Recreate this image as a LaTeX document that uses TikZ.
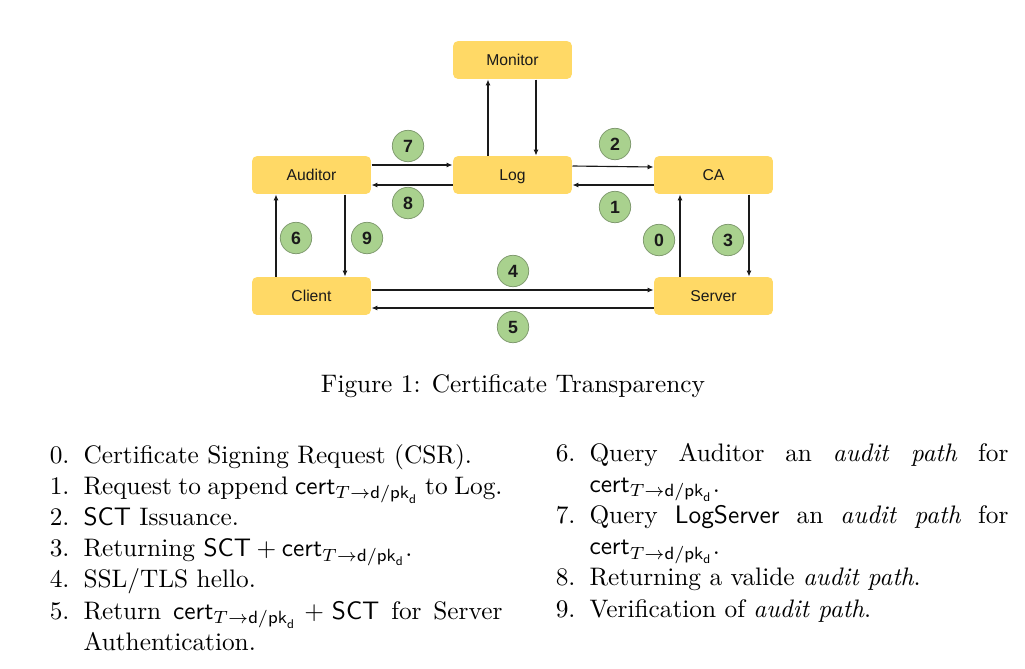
\documentclass[tikz,border=0pt]{standalone}
\usepackage{amsmath}
\usepackage{fontspec}
\usetikzlibrary{arrows.meta, calc}
\newfontfamily\boxfont{Liberation Sans}
\definecolor{boxyellow}{HTML}{FFD966}
\definecolor{stepgreen}{HTML}{A9D18E}
\definecolor{stepedge}{HTML}{7F9A6E}
\definecolor{ink}{HTML}{1A1A1A}
\newcommand{\certd}{\ensuremath{\mathsf{cert}_{T\rightarrow\mathsf{d}/\mathsf{pk}_{\mathsf{d}}}}}
\newcommand{\sct}{\textsf{SCT}}
\tikzset{
  entity/.style    = {rectangle, rounded corners=2pt, fill=boxyellow, draw=none,
                      minimum width=47pt, minimum height=15pt, inner sep=0pt,
                      text height=4.4pt, text depth=0pt,
                      font=\boxfont\fontsize{6.2}{7}\selectfont, text=ink},
  numcircle/.style = {circle, fill=stepgreen, draw=stepedge, line width=0.3pt,
                      minimum size=12.4pt, inner sep=0pt,
                      font=\boxfont\bfseries\fontsize{7}{8}\selectfont, text=ink},
  flow/.style      = {-{Latex[length=2.3pt,width=2pt]}, line width=0.45pt, draw=ink},
  itemtext/.style  = {anchor=base west, inner sep=0pt, text width=165.5pt, align=justify,
                      font=\fontsize{10}{12.3}\selectfont},
  itemnum/.style   = {anchor=base east, inner sep=0pt},
}

\begin{document}
\begin{tikzpicture}[x=0.395pt, y=-0.395pt]
  \useasboundingbox (0,0) rectangle (1025,668);

  % parties
  \node[entity] (monitor) at (512.5,60)  {Monitor};
  \node[entity] (auditor) at (311.5,175) {Auditor};
  \node[entity] (log)     at (512.5,175) {Log};
  \node[entity] (ca)      at (713.5,175) {CA};
  \node[entity] (client)  at (311.5,296) {Client};
  \node[entity] (server)  at (713.5,296) {Server};

  % messages
  \draw[flow] ($(log.north)+(-24.5,0)$) -- ($(monitor.south)+(-24.5,0)$);
  \draw[flow] ($(monitor.south)+(23.5,0)$) -- ($(log.north)+(23.5,0)$);
  \draw[flow] ($(auditor.east)+(0,-10)$) -- ($(log.west)+(0,-10)$);
  \draw[flow] ($(log.west)+(0,10)$) -- ($(auditor.east)+(0,10)$);
  \draw[flow] ($(log.east)+(0,-9)$) -- ($(ca.west)+(0,-8)$);
  \draw[flow] ($(ca.west)+(0,10)$) -- ($(log.east)+(0,10)$);
  \draw[flow] ($(client.north)+(-35.5,0)$) -- ($(auditor.south)+(-35.5,0)$);
  \draw[flow] ($(auditor.south)+(33.5,0)$) -- ($(client.north)+(33.5,0)$);
  \draw[flow] ($(server.north)+(-33.5,0)$) -- ($(ca.south)+(-33.5,0)$);
  \draw[flow] ($(ca.south)+(35.5,0)$) -- ($(server.north)+(35.5,0)$);
  \draw[flow] ($(client.east)+(0,-6)$) -- ($(server.west)+(0,-6)$);
  \draw[flow] ($(server.west)+(0,12)$) -- ($(client.east)+(0,12)$);

  % step numbers
  \foreach \num/\px/\py in {0/659/240, 1/615/207, 2/615/144, 3/728/240, 4/513/271,
                            5/513/327, 6/296/238, 7/408/146, 8/408/203, 9/367/238}
    \node[numcircle] (step\num) at (\px,\py) {\num};

  \node (caption) at (513,386) {Figure 1: Certificate Transparency};

  % left column
  \node[itemtext] (item0) at (83,463)   {Certificate Signing Request (CSR).};
  \node[itemtext] (item1) at (83,494.2) {Request to append \certd{} to Log.};
  \node[itemtext] (item2) at (83,525.4) {\sct{} Issuance.};
  \node[itemtext] (item3) at (83,556.6) {Returning $\mathsf{SCT}+\certd$.};
  \node[itemtext] (item4) at (83,587.8) {SSL/TLS hello.};
  \node[itemtext] (item5) at (83,619)   {Return $\certd+\mathsf{SCT}$ for Server\linebreak Authentication.};

  % right column
  \node[itemtext] (item6) at (589,461)   {Query Auditor an \emph{audit path} for\linebreak $\certd$.};
  \node[itemtext] (item7) at (589,523.4) {Query \textsf{LogServer} an \emph{audit path} for\linebreak $\certd$.};
  \node[itemtext] (item8) at (589,585.8) {Returning a valide \emph{audit path}.};
  \node[itemtext] (item9) at (589,617)   {Verification of \emph{audit path}.};

  \foreach \num in {0,...,9}
    \node[itemnum] (num\num) at ($(item\num.base west)+(-13,0)$) {\num.};
\end{tikzpicture}
\end{document}
